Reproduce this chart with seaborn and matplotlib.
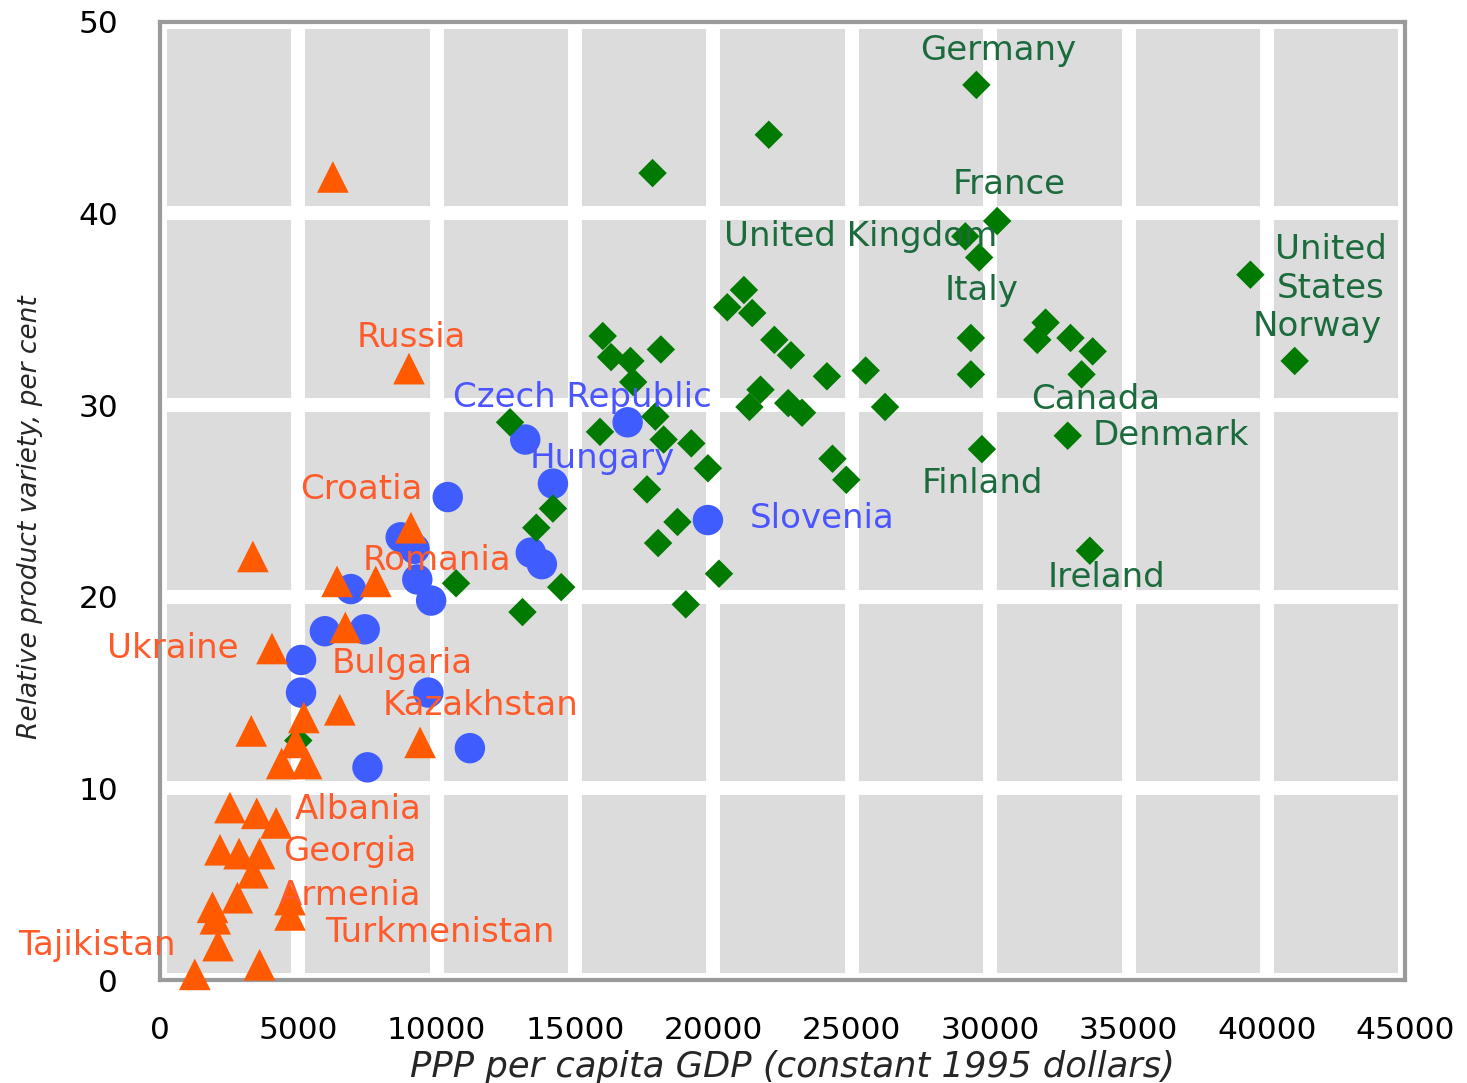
import pandas as pd
import seaborn as sns
import matplotlib.pyplot as plt

# OECD countries (green diamonds)
oecd_gdp = [29.5, 22.0, 17.8, 30.25, 29.1, 29.6, 39.4, 41.0, 21.1, 20.5, 21.4, 16.0, 16.3, 17.0,
            18.1, 17.1, 22.2, 22.8, 24.1, 25.5, 21.7, 21.3, 22.7, 23.2, 26.2, 29.3, 29.3, 29.7,
            32.0, 31.7, 32.9, 33.7, 33.3, 32.8, 33.6, 24.3, 24.8, 12.65, 15.9, 17.9, 18.2, 19.2,
            19.8, 17.6, 18.7, 18.0, 20.2, 19.0, 14.2, 13.6, 14.5, 13.1, 10.7, 5.0]
oecd_var = [46.7, 44.1, 42.1, 39.6, 38.8, 37.7, 36.8, 32.3, 36.0, 35.1, 34.8, 33.6, 32.5, 32.3,
            32.9, 31.2, 33.4, 32.6, 31.5, 31.8, 30.8, 29.9, 30.1, 29.6, 29.9, 33.5, 31.6, 27.7,
            34.3, 33.4, 33.5, 32.8, 31.6, 28.4, 22.4, 27.2, 26.1, 29.1, 28.6, 29.4, 28.2, 28.0,
            26.7, 25.6, 23.9, 22.8, 21.2, 19.6, 24.6, 23.6, 20.5, 19.2, 20.7, 12.5]

# Central and eastern Europe (blue circles)
cee_gdp = [16.9, 13.2, 14.2, 10.4, 19.8, 13.4, 13.8, 8.7, 9.2, 9.3, 9.8, 6.9, 5.96, 7.4,
           5.1, 5.1, 9.7, 11.2, 7.5]
cee_var = [29.1, 28.2, 25.9, 25.2, 24.0, 22.3, 21.7, 23.1, 22.5, 20.9, 19.8, 20.4, 18.2, 18.3,
           16.7, 15.0, 15.0, 12.1, 11.1]

# CIS and south-eastern Europe (orange triangles)
cis_gdp = [6.25, 9.0, 9.07, 3.36, 6.4, 7.8, 6.7, 4.05, 5.2, 6.5, 3.3, 9.4, 4.4, 5.3, 4.9,
           2.53, 3.5, 4.2, 2.17, 2.86, 3.6, 3.36, 2.8, 1.9, 2.0, 4.7, 4.7, 2.1, 1.26, 3.6]
cis_var = [41.9, 31.9, 23.6, 22.1, 20.8, 20.8, 18.4, 17.3, 13.7, 14.1, 13.0, 12.4, 11.3, 11.3,
           12.4, 9.0, 8.7, 8.2, 6.8, 6.6, 6.6, 5.6, 4.3, 3.8, 3.2, 4.2, 3.4, 1.8, 0.3, 0.8]

labels_oecd = ['Germany', 'France', 'United Kingdom', 'Italy', 'United\nStates', 'Norway',
               'Canada', 'Denmark', 'Finland', 'Ireland']
labels_oecd_x = [30.3, 30.7, 25.3, 29.7, 42.3, 41.8, 33.8, 33.7, 29.7, 34.2]
labels_oecd_y = [48.5, 41.5, 38.8, 36.0, 37.1, 34.1, 30.3, 28.4, 25.9, 21.0]

labels_cee = ['Czech Republic', 'Hungary', 'Slovenia']
labels_cee_x = [15.25, 16.0, 21.3]
labels_cee_y = [30.4, 27.2, 24.1]

labels_cis = ['Russia', 'Croatia', 'Romania', 'Ukraine', 'Bulgaria', 'Kazakhstan', 'Albania',
              'Georgia', 'Armenia', 'Turkmenistan', 'Tajikistan']
labels_cis_x = [9.07, 7.26, 10.0, 0.47, 8.75, 11.6, 7.16, 6.87, 6.87, 10.1, -2.28]
labels_cis_y = [33.5, 25.6, 21.9, 17.3, 16.5, 14.35, 8.9, 6.7, 4.4, 2.5, 1.8]

x_ticks = [0, 5000, 10000, 15000, 20000, 25000, 30000, 35000, 40000, 45000]
y_ticks = [0, 10, 20, 30, 40, 50]

groups = [
    ('cee', cee_gdp, cee_var, '#3f5cff', 'o', 480),
    ('oecd', oecd_gdp, oecd_var, '#007a00', 'D', 210),
    ('cis', cis_gdp, cis_var, '#ff5a00', '^', 520),
]

sns.set_style('white')
plt.rcParams['font.family'] = ['DejaVu Sans']

fig = plt.figure(figsize=(14.67, 10.83), dpi=100)
ax = fig.add_axes([0.109, 0.095, 0.849, 0.885])
ax.set_facecolor('#dcdcdc')

for name, gx, gy, col, mk, sz in groups:
    df = pd.DataFrame({'gdp': [v * 1000 for v in gx], 'var': gy})
    sns.scatterplot(data=df, x='gdp', y='var', color=col, marker=mk, s=sz,
                    edgecolor='none', linewidth=0, ax=ax, zorder=3, clip_on=False)

def put_labels(names, xs, ys, col):
    for n, lx, ly in zip(names, xs, ys):
        h = 'left' if n in ('Denmark', 'Slovenia') else 'center'
        ax.text(lx * 1000, ly, n, color=col, fontsize=24.5, ha=h, va='center',
                zorder=4, clip_on=False, linespacing=1.2)

put_labels(labels_oecd, labels_oecd_x, labels_oecd_y, '#1b6b3c')
put_labels(labels_cee, labels_cee_x, labels_cee_y, '#4a55ff')
put_labels(labels_cis, labels_cis_x, labels_cis_y, '#ff5a2a')

ax.set_xlim(0, 45000)
ax.set_ylim(0, 50)
ax.set_xticks(x_ticks)
ax.set_yticks(y_ticks)
ax.set_xticklabels([str(t) for t in x_ticks])
ax.tick_params(axis='both', length=0, labelsize=22.5, colors='black')
ax.tick_params(axis='x', pad=26)
ax.tick_params(axis='y', pad=30)
ax.grid(True, color='white', linewidth=10)
ax.set_axisbelow(True)

for sp in ax.spines.values():
    sp.set_color('#9a9a9a')
    sp.set_linewidth(3)
    sp.set_visible(True)

ax.set_xlabel('PPP per capita GDP (constant 1995 dollars)', fontsize=25.5, style='italic')
ax.set_ylabel('Relative product variety, per cent', fontsize=19, style='italic')
ax.xaxis.set_label_coords(0.508, -0.091)
ax.yaxis.set_label_coords(-0.104, 0.483)
ax.xaxis.label.set_va('center')
ax.yaxis.label.set_va('center')

fig.savefig('out.png', dpi=100, facecolor='white')
